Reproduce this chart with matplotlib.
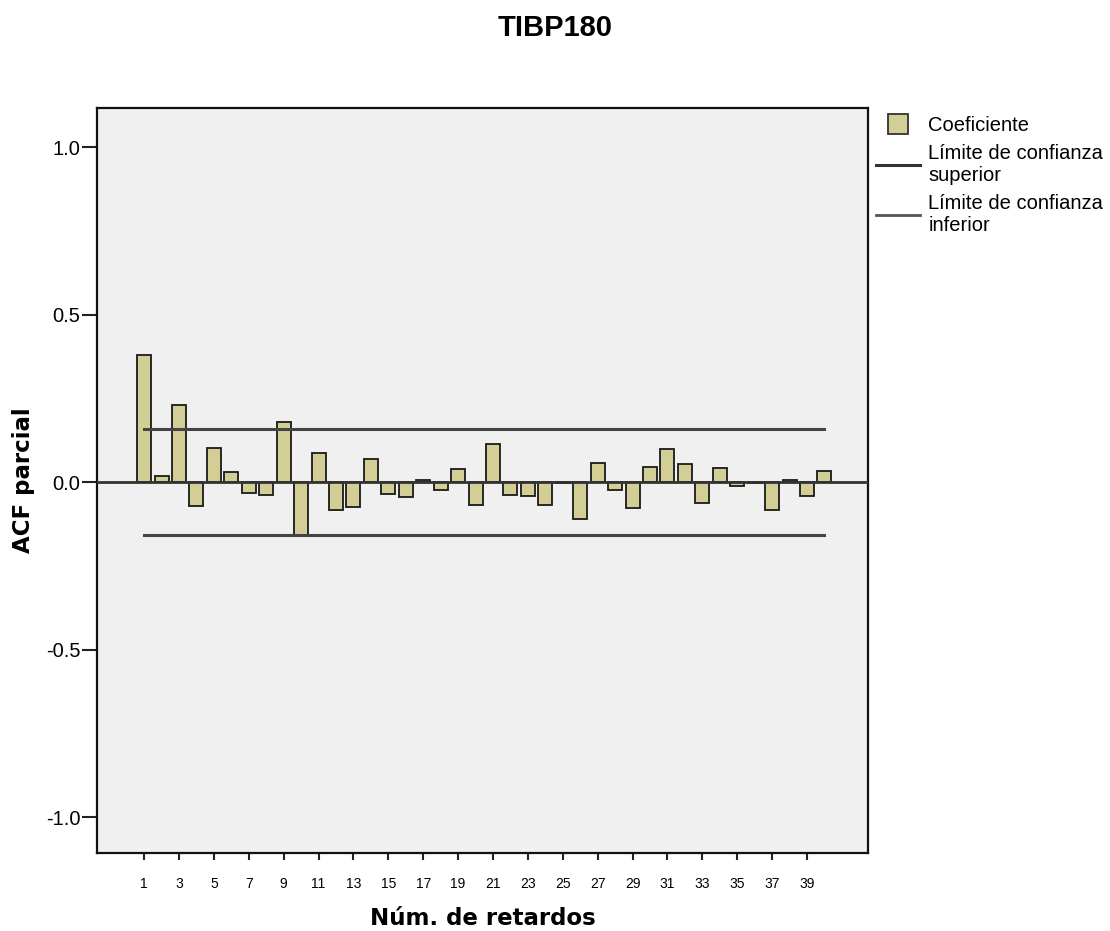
import numpy as np
import matplotlib
matplotlib.use("Agg")
import matplotlib.pyplot as plt
from matplotlib.lines import Line2D

# partial autocorrelation coefficients, lags 1..40
lags = list(range(1, 41))
pacf = [0.379, 0.018, 0.229, -0.072, 0.103, 0.029, -0.032, -0.040, 0.179, -0.160,
        0.088, -0.084, -0.074, 0.069, -0.035, -0.045, 0.007, -0.025, 0.040, -0.068,
        0.114, -0.039, -0.043, -0.069, -0.003, -0.111, 0.057, -0.023, -0.076, 0.046,
        0.099, 0.054, -0.061, 0.041, -0.013, -0.003, -0.083, 0.005, -0.043, 0.032]
conf_sup = 0.157
conf_inf = -0.157
xtick_lags = list(range(1, 40, 2))
yticks = [-1.0, -0.5, 0.0, 0.5, 1.0]

fig = plt.figure(figsize=(11.1, 9.31), dpi=100)
ax = fig.add_axes([0.0874, 0.0838, 0.6946, 0.800])
ax.set_facecolor('#f0f0f0')

ax.bar(lags, pacf, width=0.8, color='#d3ce96', edgecolor='#1a1a1a', linewidth=1.3, zorder=2)
ax.axhline(0, color='#333333', lw=2.0, zorder=3)
ax.plot([lags[0], lags[-1]], [conf_sup, conf_sup], color='#444444', lw=2.2, zorder=3)
ax.plot([lags[0], lags[-1]], [conf_inf, conf_inf], color='#444444', lw=2.2, zorder=3)

ax.set_xlim(-1.7, 42.5)
ax.set_ylim(-1.107, 1.116)
ax.set_xticks(xtick_lags)
ax.set_xticklabels([str(v) for v in xtick_lags], fontsize=10, family='Liberation Sans')
ax.set_yticks(yticks)
ax.set_yticklabels(['%.1f' % v for v in yticks], fontsize=14.5, family='Liberation Sans')
ax.tick_params(axis='x', length=5, width=1.5, pad=12, color='#222222')
ax.tick_params(axis='y', length=11, width=1.5, pad=1, color='#222222')
for s in ax.spines.values():
    s.set_linewidth(1.6)
    s.set_color('#111111')

ax.set_xlabel('Núm. de retardos', fontsize=16.5, fontweight='bold', labelpad=12)
ax.set_ylabel('ACF parcial', fontsize=16.5, fontweight='bold', labelpad=8)
fig.text(0.5, 0.970, 'TIBP180', ha='center', va='center', fontsize=21,
         fontweight='bold', family='Liberation Sans')

handles = [Line2D([], [], marker='s', markersize=14, markerfacecolor='#d3ce96',
                  markeredgecolor='#333333', markeredgewidth=1.3, linestyle='none'),
           Line2D([], [], color='#333333', lw=2.2),
           Line2D([], [], color='#555555', lw=2.0)]
labels = ['Coeficiente', 'Límite de confianza\nsuperior', 'Límite de confianza\ninferior']
ax.legend(handles, labels, loc='upper left', bbox_to_anchor=(1.0, 1.0), frameon=False,
          prop={'family': 'Liberation Sans', 'size': 14.5}, handlelength=2.2,
          handletextpad=0.4, labelspacing=0.45, borderaxespad=0.1, borderpad=0.3)

fig.savefig('out.png', dpi=100, facecolor='white')
